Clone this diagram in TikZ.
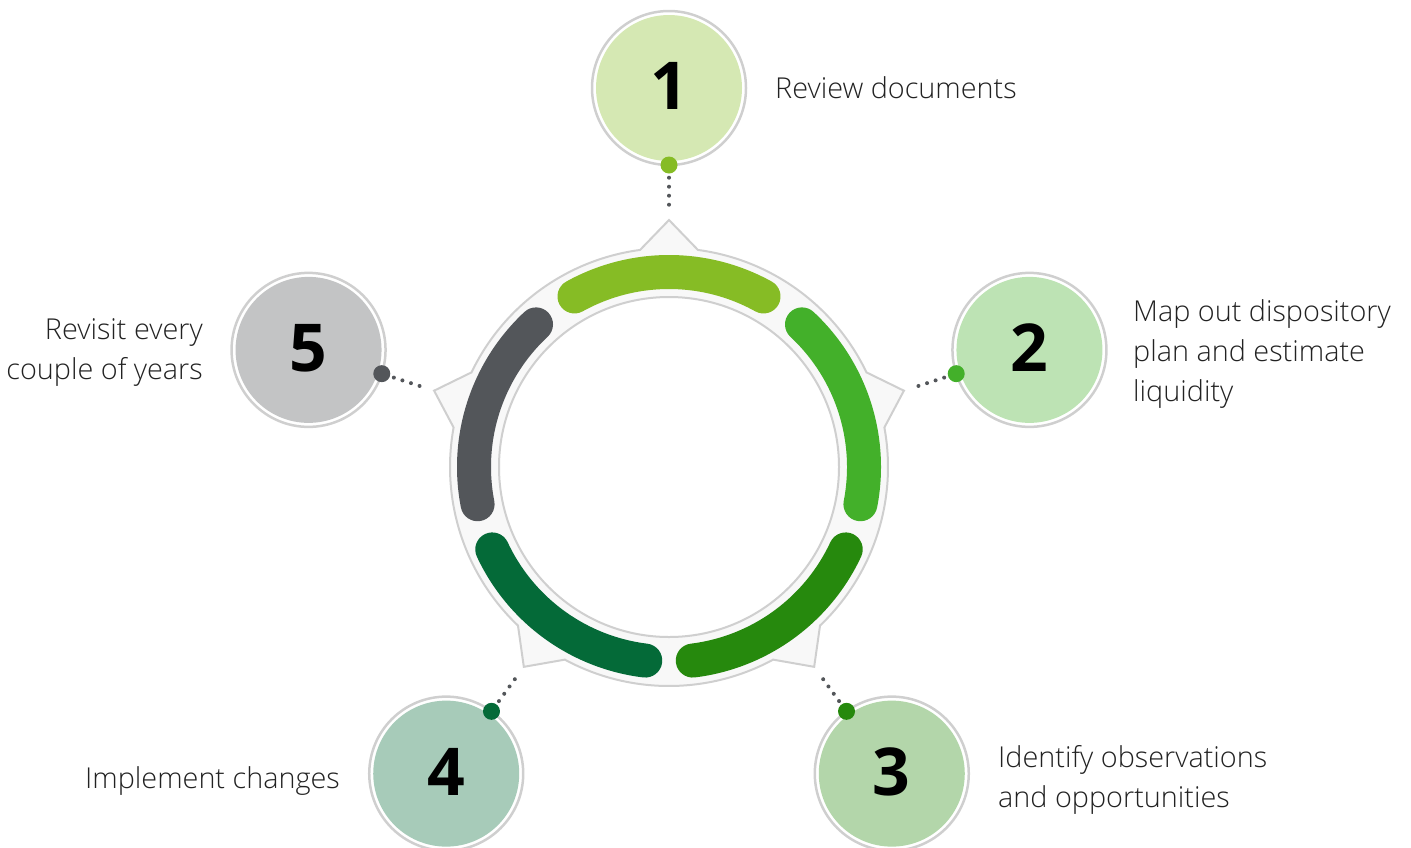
\documentclass[tikz,border=0pt]{standalone}
\usepackage{fontspec}
\IfFontExistsTF{Open Sans Light}{\setmainfont{Open Sans Light}}{\setmainfont{Open Sans}}
\newfontfamily\numfont{Open Sans}
\definecolor{cA}{HTML}{86BC25}
\definecolor{cB}{HTML}{43B02A}
\definecolor{cC}{HTML}{26890D}
\definecolor{cD}{HTML}{046A38}
\definecolor{cE}{HTML}{53565A}
\definecolor{ringline}{HTML}{CFCFCF}
\definecolor{ringfill}{HTML}{F8F8F8}
\definecolor{txt}{HTML}{222222}
\tikzset{
  numcirc/.style={circle, inner sep=0pt, minimum size=146pt, text=black,
    font=\numfont\bfseries\fontsize{66}{66}\selectfont},
  outring/.style={draw=ringline, line width=2.5pt},
  dotnode/.style={circle, inner sep=0pt, minimum size=17pt},
  dotline/.style={draw=cE, line width=4pt, line cap=round, dash pattern=on 0pt off 9pt,
    shorten >=9pt, shorten <=4pt},
  band/.style={line width=34pt, line cap=round},
  lbl/.style={inner sep=0pt, text=txt, font=\fontsize{28.8}{40}\selectfont}
}
\begin{document}
\begin{tikzpicture}[x=1pt,y=1pt]
\useasboundingbox (0,0) rectangle (1411,-847);
\begin{scope}[shift={(669pt,-467pt)}]
  % outer ring with spikes
  \draw[fill=ringfill, draw=ringline, line width=2pt]
    (97.6:219pt) -- (90:247pt) -- (82.4:219pt)
    arc[start angle=82.4, end angle=25.6, radius=219pt] -- (18:247pt) -- (10.4:219pt)
    arc[start angle=10.4, end angle=-46.4, radius=219pt] -- (-54:247pt) -- (-61.6:219pt)
    arc[start angle=-61.6, end angle=-118.4, radius=219pt] -- (-126:247pt) -- (-133.6:219pt)
    arc[start angle=-133.6, end angle=-190.4, radius=219pt] -- (162:247pt) -- (154.4:219pt)
    arc[start angle=154.4, end angle=97.6, radius=219pt] -- cycle;
  \draw[fill=white, draw=ringline, line width=2pt] (0,0) circle[radius=170pt];
  % colored bands
  \draw[band, draw=cA] (119:195pt) arc[start angle=119, end angle=61, radius=195pt];
  \draw[band, draw=cB] (47:195pt) arc[start angle=47, end angle=-11, radius=195pt];
  \draw[band, draw=cC] (-25:195pt) arc[start angle=-25, end angle=-83, radius=195pt];
  \draw[band, draw=cD] (-97:195pt) arc[start angle=-97, end angle=-155, radius=195pt];
  \draw[band, draw=cE] (-169:195pt) arc[start angle=-169, end angle=-227, radius=195pt];
  % spike tips
  \coordinate (t1) at (90:247pt);
  \coordinate (t2) at (18:247pt);
  \coordinate (t3) at (-54:247pt);
  \coordinate (t4) at (-126:247pt);
  \coordinate (t5) at (162:247pt);
  % numbered circles
  \node[numcirc, fill=cA!35!white] (n1) at (90:379pt) {\raisebox{4pt}{1}};
  \node[numcirc, fill=cB!35!white] (n2) at (18:379pt) {\raisebox{4pt}{2}};
  \node[numcirc, fill=cC!35!white] (n3) at (-54:379pt) {\raisebox{4pt}{3}};
  \node[numcirc, fill=cD!35!white] (n4) at (-126:379pt) {\raisebox{4pt}{4}};
  \node[numcirc, fill=cE!35!white] (n5) at (162:379pt) {\raisebox{4pt}{5}};
  \foreach \n in {n1,n2,n3,n4,n5} \draw[outring] (\n.center) circle[radius=77pt];
  % dots
  \node[dotnode, fill=cA] (d1) at (90:302pt) {};
  \node[dotnode, fill=cB] (d2) at (18:302pt) {};
  \node[dotnode, fill=cC] (d3) at (-54:302pt) {};
  \node[dotnode, fill=cD] (d4) at (-126:302pt) {};
  \node[dotnode, fill=cE] (d5) at (162:302pt) {};
  % dotted connectors
  \draw[dotline] (d1) -- (t1);
  \draw[dotline] (d2) -- (t2);
  \draw[dotline] (d3) -- (t3);
  \draw[dotline] (d4) -- (t4);
  \draw[dotline] (d5) -- (t5);
\end{scope}
% labels
\node[lbl, anchor=base west] (l1) at (775,-98) {Review documents};
\node[lbl, anchor=base west] (l2) at (1133,-321)
  {\begin{tabular}[t]{@{}l@{}}Map out dispository\\plan and estimate\\liquidity\end{tabular}};
\node[lbl, anchor=base west] (l3) at (998,-767)
  {\begin{tabular}[t]{@{}l@{}}Identify observations\\and opportunities\end{tabular}};
\node[lbl, anchor=base east] (l4) at (340,-788) {Implement changes};
\node[lbl, anchor=base east] (l5) at (203,-339)
  {\begin{tabular}[t]{@{}r@{}}Revisit every\\couple of years\end{tabular}};
\end{tikzpicture}
\end{document}
